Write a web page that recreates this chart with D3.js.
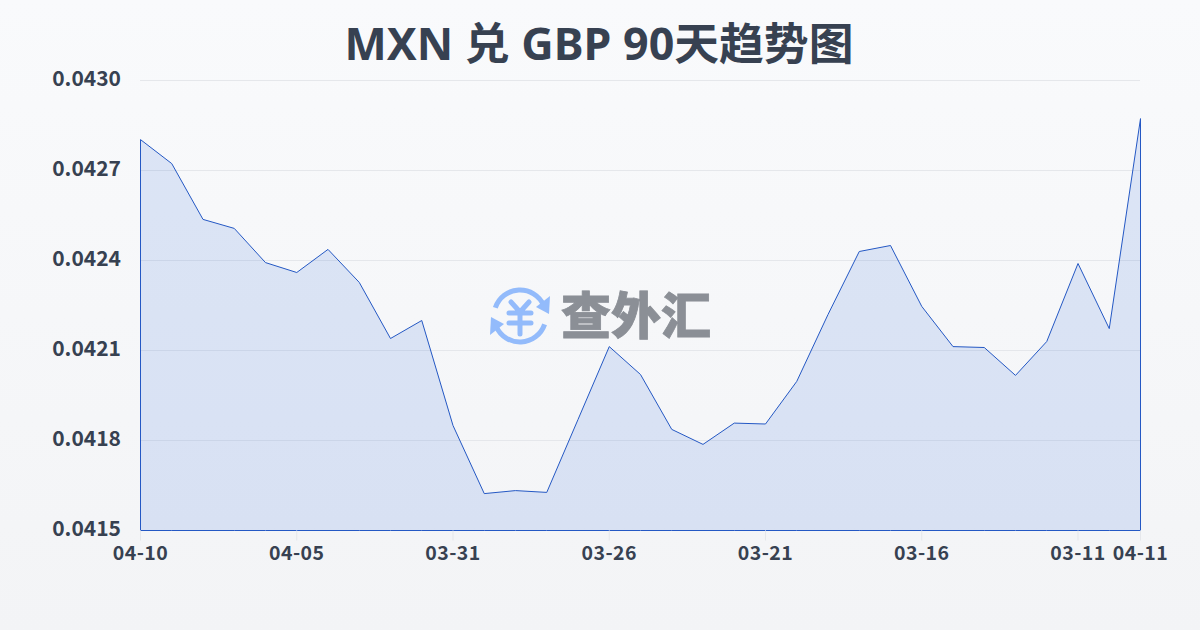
<!DOCTYPE html>
<html>
<head>
<meta charset="utf-8">
<script src="https://cdn.jsdelivr.net/npm/d3@7"></script>
<style>
    html, body { margin: 0; padding: 0; }
    text { font-family: "Noto Sans", "Noto Sans CJK SC", sans-serif; }
</style>
</head>
<body>
<svg id="chart" width="1200" height="630"></svg>
<script>
const titleText = "MXN 兑 GBP 90天趋势图";
const dates = ["04-10", "04-09", "04-08", "04-07", "04-06", "04-05", "04-04", "04-03", "04-02", "04-01", "03-31",
    "03-30", "03-29", "03-28", "03-27", "03-26", "03-25", "03-24", "03-23", "03-22", "03-21",
    "03-20", "03-19", "03-18", "03-17", "03-16", "03-15", "03-14", "03-13", "03-12", "03-11", "03-10", "04-11"];
const rates = [0.042803, 0.042723, 0.042537, 0.042507, 0.042393, 0.04236, 0.042437, 0.042327, 0.04214, 0.0422, 0.04185,
    0.041623, 0.041633, 0.041627, 0.04187, 0.042113, 0.04202, 0.041837, 0.041787, 0.041858, 0.041855,
    0.041997, 0.04222, 0.04243, 0.04245, 0.042247, 0.042113, 0.04211, 0.042017, 0.04213, 0.04239, 0.042173, 0.042873];
const yTicks = [0.0415, 0.0418, 0.0421, 0.0424, 0.0427, 0.043];
const xLabels = ["04-10", "04-05", "03-31", "03-26", "03-21", "03-16", "03-11", "04-11"];

const width = 1200, height = 630;
const margin = { top: 80, right: 60, bottom: 100, left: 140 };
const textColor = "#374151";
const labelFont = "'Noto Sans CJK SC', 'Noto Sans', sans-serif";

const svg = d3.select("#chart");
const defs = svg.append("defs");

// Page background
const bg = defs.append("linearGradient").attr("id", "bg").attr("x1", 0).attr("y1", 0).attr("x2", 0).attr("y2", 1);
bg.append("stop").attr("offset", "0%").attr("stop-color", "#f9fafc");
bg.append("stop").attr("offset", "100%").attr("stop-color", "#f3f4f6");
svg.append("rect").attr("width", width).attr("height", height).attr("fill", "url(#bg)");

const x = d3.scalePoint()
    .domain(d3.range(dates.length))
    .range([margin.left + 0.5, width - margin.right + 0.5]);
const y = d3.scaleLinear()
    .domain([0.0415, 0.043])
    .range([height - margin.bottom + 0.5, margin.top + 0.5]);

// Grid lines
svg.append("g").selectAll("line")
    .data(yTicks.slice(1))
    .join("line")
    .attr("x1", margin.left)
    .attr("x2", width - margin.right)
    .attr("y1", d => y(d))
    .attr("y2", d => y(d))
    .attr("stroke", "#e5e7eb")
    .attr("stroke-width", 1);

// Y labels
svg.append("g").selectAll("text")
    .data(yTicks)
    .join("text")
    .attr("x", 121)
    .attr("y", d => y(d) - 1.5)
    .attr("dy", "0.35em")
    .attr("text-anchor", "end")
    .attr("font-size", 21)
    .attr("font-weight", 700)
    .attr("fill", textColor)
    .style("font-family", labelFont)
    .text(d => d.toFixed(4));

// Area with closed outline
const area = d3.area()
    .x((d, i) => x(i))
    .y0(y(0.0415))
    .y1(d => y(d));
svg.append("path")
    .datum(rates)
    .attr("d", area)
    .attr("fill", "#1e5ad6")
    .attr("fill-opacity", 0.13)
    .attr("stroke", "#2458c4")
    .attr("stroke-width", 1);

// X ticks and labels
const labelIdx = dates.map((d, i) => i).filter(i => xLabels.includes(dates[i]) && (i % 5 === 0 || i === dates.length - 1));
const xAxis = svg.append("g");
xAxis.selectAll("line")
    .data(labelIdx)
    .join("line")
    .attr("x1", d => x(d))
    .attr("x2", d => x(d))
    .attr("y1", y(0.0415))
    .attr("y2", y(0.0415) + 10)
    .attr("stroke", "#e5e7eb");
xAxis.selectAll("text")
    .data(labelIdx)
    .join("text")
    .attr("x", d => x(d))
    .attr("y", 553)
    .attr("dy", "0.35em")
    .attr("text-anchor", "middle")
    .attr("font-size", 19.5)
    .attr("font-weight", 700)
    .attr("letter-spacing", 0.5)
    .attr("fill", textColor)
    .style("font-family", labelFont)
    .text(d => dates[d]);

// Title
svg.append("text")
    .attr("x", 599)
    .attr("y", 44)
    .attr("dy", "0.35em")
    .attr("text-anchor", "middle")
    .attr("font-size", 44.8)
    .attr("font-weight", 700)
    .attr("fill", textColor)
    .text(titleText);

// Watermark
const mark = svg.append("g").attr("transform", "translate(520,316)");
const iconBlue = "#93bbfb";
const arc = d3.arc().innerRadius(23.5).outerRadius(28.5);
mark.append("path").attr("d", arc({ startAngle: -1.25, endAngle: 1.15 })).attr("fill", iconBlue);
mark.append("path").attr("d", arc({ startAngle: 1.9, endAngle: 4.3 })).attr("fill", iconBlue);
mark.append("path").attr("d", "M29,-2 L16,-9 L30,-20 Z").attr("fill", iconBlue);
mark.append("path").attr("d", "M-29,1 L-16,8 L-30,19 Z").attr("fill", iconBlue);
mark.append("path")
    .attr("d", "M-9,-14 L0,-4 L9,-14 M-11,-3 H11 M-11,7 H11 M0,-4 V18")
    .attr("fill", "none")
    .attr("stroke", iconBlue)
    .attr("stroke-width", 5)
    .attr("stroke-linecap", "round")
    .attr("stroke-linejoin", "round");
svg.append("text")
    .attr("x", 636)
    .attr("y", 316)
    .attr("dy", "0.36em")
    .attr("text-anchor", "middle")
    .attr("font-size", 50)
    .attr("font-weight", 900)
    .attr("fill", "#8b8f96")
    .attr("stroke", "#8b8f96")
    .attr("stroke-width", 0.8)
    .style("font-family", "'Noto Sans CJK SC'")
    .text("查外汇");
</script>
</body>
</html>
